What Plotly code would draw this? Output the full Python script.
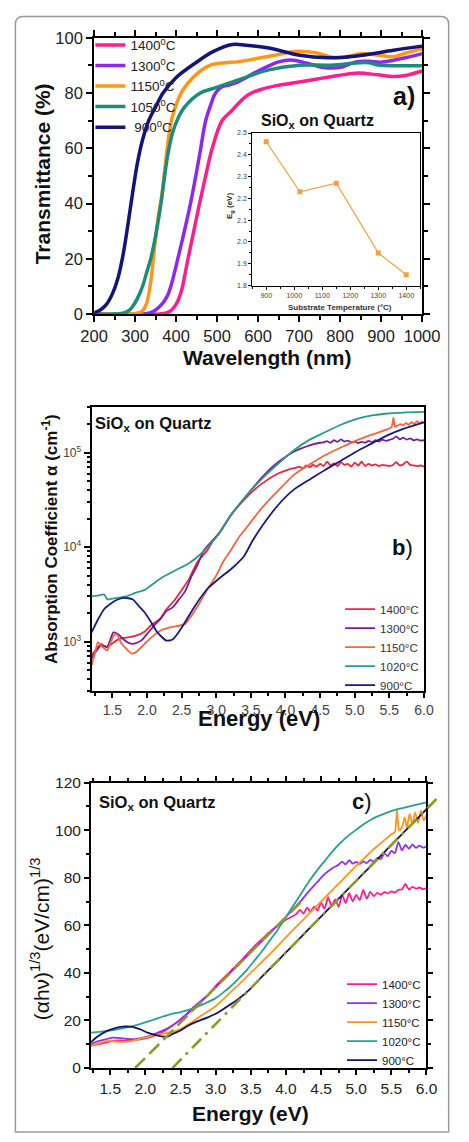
import plotly.graph_objects as go

W, H = 469, 1142
FONT = "Liberation Sans, Arial, Helvetica, sans-serif"


def fx(p):
    return p / W


def fy(p):
    return 1 - p / H


# ---------------- Panel a : transmittance ----------------
a_names = ["1400<sup>0</sup>C", "1300<sup>0</sup>C", "1150<sup>0</sup>C", "1050<sup>0</sup>C", "\u00a0900<sup>0</sup>C"]
a_colors = ["#ff1e8c", "#8c28f0", "#ff9619", "#1e8c7d", "#14147d"]

wl_1400 = [200, 370, 385, 395, 405, 414, 421, 429, 443, 457, 472, 488, 512, 535, 550, 577, 611, 648, 700, 740, 780,
           816, 846, 892, 930, 960, 1000]
T_1400 = [0, 0.2, 1, 2.5, 5, 9, 14, 20, 30, 40, 50, 60, 70, 73.5, 76, 79.5, 81.5, 82.8, 84, 85, 86, 86.8, 87.3, 86.6,
          86.0, 86.4, 88]

wl_1300 = [200, 330, 345, 358, 370, 380, 387, 396, 404, 420, 435, 448, 460, 472, 485, 494, 509, 530, 550, 600, 650,
           680, 720, 760, 800, 839, 870, 900, 950, 1000]
T_1300 = [0, 0.2, 1, 2.5, 4.5, 7, 10, 15, 20, 30, 40, 50, 60, 70, 76, 79.5, 82, 83, 84, 88, 91.3, 92, 90.8, 89.3, 89.3,
          91.3, 91.5, 91.2, 92.5, 94.3]

wl_1150 = [200, 300, 312, 320, 327, 333, 340, 348, 356, 364, 372, 380, 390, 414, 440, 482, 520, 550, 600, 650, 690,
           740, 778, 810, 853, 890, 930, 960, 1000]
T_1150 = [0, 0.2, 0.6, 1.5, 3.5, 7, 14, 25, 35, 42, 52, 62, 71, 80.5, 85.5, 90, 91, 91.3, 92.6, 94, 95.1, 94.6, 93.1,
          93.0, 94.3, 93.8, 93.2, 94.5, 96]

wl_1050 = [200, 250, 270, 285, 295, 305, 318, 328, 338, 352, 364, 372, 380, 392, 405, 421, 459, 497, 550, 626, 702,
           778, 839, 870, 892, 950, 1000]
T_1050 = [0, 0.05, 0.3, 1.3, 3, 5.5, 10, 15, 20, 30, 41, 50, 58, 66, 71, 75, 80, 82, 84.7, 88.4, 90.1, 90.1, 90.9, 91,
          90.2, 89.9, 89.9]

wl_900 = [200, 215, 230, 245, 258, 270, 282, 294, 306, 318, 333, 350, 368, 399, 448, 490, 537, 570, 626, 702, 770,
          810, 853, 930, 1000]
T_900 = [0.5, 1.5, 3.5, 7.5, 13, 21, 32, 44, 55, 63, 70, 75, 80, 85.5, 91, 95, 97.6, 97.3, 96.3, 93.7, 92.8, 93.0,
         93.7, 95.5, 97]

a_wl = [wl_1400, wl_1300, wl_1150, wl_1050, wl_900]
a_T = [T_1400, T_1300, T_1150, T_1050, T_900]

# inset
inset_temp = [900, 1020, 1150, 1300, 1400]
inset_eg = [2.46, 2.23, 2.27, 1.95, 1.85]

# ---------------- Panel b : absorption coefficient ----------------
b_names = ["1400°C", "1300°C", "1150°C", "1020°C", "900°C"]
b_colors = ["#e8283c", "#7d1e96", "#f5643c", "#289b8c", "#191982"]

E_b_1400 = [1.2, 1.26, 1.335, 1.38, 1.425, 1.5, 1.6, 1.7, 1.83, 1.97, 2.05, 2.19, 2.28, 2.39, 2.5, 2.6, 2.73, 2.87,
            2.95, 3.05, 3.22, 3.45, 3.67, 3.9, 4.03, 4.1,
            4.15, 4.2, 4.25, 4.3, 4.35, 4.4, 4.45, 4.5, 4.55, 4.6, 4.65, 4.7, 4.75, 4.8, 4.85, 4.9, 4.95, 5.0, 5.05,
            5.1, 5.15, 5.2, 5.25, 5.3, 5.35, 5.4, 5.45, 5.5, 5.55, 5.6, 5.65, 5.7, 5.75, 5.8, 5.85, 5.9, 5.95, 6.0]
a_b_1400 = [714, 820, 946, 900, 875, 960, 1067, 1100, 1150, 1280, 1468, 1750, 2190, 2700, 3500, 4500, 7000, 9220,
            11500, 14300, 22200, 34500, 47500, 60400, 65500, 68000,
            69000, 71000, 68000, 73000, 70000, 74000, 71000, 76000, 72000, 80000, 73000, 77000, 72000, 79000, 74000,
            76000, 71000, 78000, 73000, 80000, 72000, 76000, 73000, 75000, 72000, 74000, 73000, 72000, 74000, 79000,
            73000, 75000, 80000, 74000, 73000, 72000, 73000, 71000]

E_b_1300 = [1.2, 1.27, 1.335, 1.38, 1.425, 1.47, 1.515, 1.58, 1.65, 1.72, 1.785, 1.85, 1.92, 2.0, 2.1, 2.19, 2.28,
            2.37, 2.46, 2.55, 2.64, 2.73, 2.82, 2.95, 3.05, 3.22, 3.45, 3.67, 3.9, 4.12, 4.35, 4.5,
            4.55, 4.6, 4.65, 4.7, 4.75, 4.8, 4.85, 4.9, 4.95, 5.0, 5.05, 5.1, 5.15, 5.2, 5.25, 5.3, 5.35, 5.4,
            5.45, 5.5, 5.55, 5.6, 5.65, 5.7, 5.75, 5.8, 5.85, 5.9, 5.95, 6.0]
a_b_1300 = [661, 800, 908, 890, 880, 1050, 1250, 1200, 1072, 980, 946, 970, 1030, 1200, 1468, 1720, 2100, 2300,
            2780, 3400, 4860, 6500, 9220, 11800, 14300, 22200, 36000, 55800, 80000, 102000, 119000, 127000,
            128000, 132000, 127000, 135000, 130000, 138000, 131000, 134000, 128000, 131000, 126000, 130000, 127000,
            133000, 129000, 135000, 131000, 137000, 133000, 136000, 140000, 148000, 138000, 144000, 137000, 141000,
            135000, 138000, 134000, 135000]

E_b_1150 = [1.2, 1.25, 1.29, 1.335, 1.38, 1.425, 1.47, 1.52, 1.56, 1.63, 1.7, 1.785, 1.85, 1.965, 2.06, 2.19, 2.33,
            2.46, 2.55, 2.64, 2.75, 2.87, 3.0, 3.1, 3.22, 3.32, 3.45, 3.59, 3.67, 3.9, 4.12, 4.35, 4.57, 4.8, 5.02,
            5.25, 5.47, 5.5, 5.53, 5.56, 5.58, 5.62, 5.66, 5.7, 5.74, 5.78, 5.82, 5.86, 5.9, 5.94, 5.97, 6.0]
a_b_1150 = [563, 760, 985, 908, 850, 805, 960, 1155, 1200, 960, 840, 745, 780, 946, 1100, 1300, 1410,
            1470, 1530, 1870, 2500, 3540, 5000, 7000, 9500, 12500, 16500, 22500, 26500, 40000, 58000, 75000, 93800,
            113000, 134000, 155000, 176000, 180000, 185000, 232000, 188000, 192000, 200000, 195000, 205000, 197000,
            210000, 200000, 215000, 203000, 212000, 205000]

E_b_1020 = [1.2, 1.3, 1.38, 1.43, 1.5, 1.6, 1.7, 1.83, 1.97, 2.1, 2.24, 2.42, 2.6, 2.78, 3.0, 3.22, 3.45, 3.67, 3.9,
            4.12, 4.35, 4.57, 4.8, 5.02, 5.25, 5.47, 5.7, 6.0]
a_b_1020 = [3010, 3080, 3150, 2800, 2850, 2920, 3000, 3270, 3540, 4150, 4870, 5720, 6700, 8500, 12700, 22200, 36000,
            53600, 76800, 106000, 137000, 164000, 197000, 226000, 247000, 259000, 265000, 269000]

E_b_900 = [1.2, 1.29, 1.38, 1.47, 1.56, 1.67, 1.79, 1.9, 1.97, 2.06, 2.15, 2.28, 2.37, 2.5, 2.69, 2.87, 3.05, 3.22,
           3.4, 3.52, 3.67, 3.9, 4.12, 4.35, 4.57, 4.8, 5.02, 5.25, 5.47, 5.7, 6.0]
a_b_900 = [1250, 1700, 2200, 2500, 2750, 2900, 2800, 2300, 2020, 1600, 1250, 1024, 1050, 1400, 2370, 3600, 4700, 5900,
           8000, 11500, 17000, 28200, 40500, 52000, 65500, 82000, 102000, 125000, 152000, 178000, 209000]

b_E = [E_b_1400, E_b_1300, E_b_1150, E_b_1020, E_b_900]
b_A = [a_b_1400, a_b_1300, a_b_1150, a_b_1020, a_b_900]

# ---------------- Panel c : Tauc-like plot ----------------
c_names = ["1400°C", "1300°C", "1150°C", "1020°C", "900°C"]
c_colors = ["#ff1e8c", "#962df5", "#ff9619", "#28a096", "#141464"]

E_c_1400 = [1.226, 1.35, 1.45, 1.54, 1.65, 1.75, 1.9, 2.0, 2.12, 2.25, 2.34, 2.45, 2.56, 2.67, 2.78, 2.9, 3.0, 3.11,
            3.22, 3.34, 3.45, 3.56, 3.67, 3.78, 3.89, 4.0, 4.11,
            4.15, 4.2, 4.25, 4.3, 4.35, 4.4, 4.45, 4.5, 4.55, 4.6, 4.65, 4.7, 4.75, 4.8, 4.85, 4.9, 4.95, 5.0, 5.05,
            5.1, 5.15, 5.2, 5.25, 5.3, 5.35, 5.4, 5.45, 5.5, 5.55, 5.6, 5.65, 5.7, 5.75, 5.8, 5.85, 5.9, 5.95, 6.0]
v_c_1400 = [9.4, 10.2, 10.8, 11.4, 11.6, 11.5, 11.9, 12.5, 13.5, 15.2, 17.0, 19.2, 21.8, 24.5, 27.5, 31.0, 34.5, 37.8,
            41.0, 44.5, 48.0, 51.5, 54.5, 57.5, 60.0, 62.3, 64.0,
            64.8, 66.5, 64.9, 67.4, 65.8, 67.9, 66.2, 69.5, 67.0, 71.8, 68.2, 70.9, 67.8, 72.6, 69.4, 73.5, 70.1, 72.8,
            70.6, 74.9, 71.2, 74.1, 72.3, 73.6, 72.9, 74.0, 73.4, 74.3, 73.8, 74.9, 75.1, 77.4, 75.0, 76.2, 75.4, 75.9,
            75.2, 75.6]

E_c_1300 = [1.226, 1.3, 1.4, 1.54, 1.65, 1.75, 1.9, 2.0, 2.12, 2.23, 2.34, 2.45, 2.56, 2.67, 2.78, 2.9, 3.0, 3.11,
            3.22, 3.34, 3.45, 3.56, 3.67, 3.78, 3.89, 4.0, 4.11, 4.22, 4.33, 4.44, 4.55, 4.66, 4.75,
            4.8, 4.85, 4.9, 4.95, 5.0, 5.05, 5.1, 5.15, 5.2, 5.25, 5.3, 5.35, 5.4, 5.45, 5.5, 5.55, 5.6, 5.65, 5.7,
            5.75, 5.8, 5.85, 5.9, 5.95, 6.0]
v_c_1300 = [10, 11, 11.8, 12.8, 12.6, 12.2, 12.4, 13.0, 14.2, 15.5, 17.0, 19.3, 22.0, 25.2, 28.0, 31.0, 33.9, 37.2,
            40.4, 44.0, 47.2, 50.5, 53.7, 57.0, 60.2, 63.5, 67.0, 70.5, 74.5, 78.0, 81.5, 84.0, 85.5,
            86.8, 85.6, 87.4, 85.9, 86.7, 85.8, 86.9, 86.2, 87.5, 86.8, 88.3, 87.9, 90.2, 89.1, 91.3, 90.4, 95.0,
            91.5, 93.8, 92.2, 94.0, 92.6, 93.5, 92.7, 93.0]

E_c_1150 = [1.226, 1.35, 1.456, 1.55, 1.68, 1.8, 1.9, 2.0, 2.12, 2.23, 2.34, 2.45, 2.56, 2.67, 2.78, 2.89, 3.0, 3.11,
            3.22, 3.34, 3.45, 3.56, 3.67, 3.78, 3.89, 4.0, 4.11, 4.22, 4.33, 4.44, 4.55, 4.66, 4.77, 4.88, 5.0, 5.1,
            5.21, 5.32, 5.4, 5.45, 5.5, 5.55, 5.58, 5.61, 5.65, 5.69, 5.72, 5.76, 5.8, 5.84, 5.88, 5.92, 5.96, 6.0]
v_c_1150 = [9.4, 10.6, 11.4, 11.2, 11.0, 11.3, 12.1, 12.8, 13.8, 14.4, 14.9, 15.8, 17.5, 19.5, 21.8, 23.8, 26.0, 29.0,
            32.1, 35.4, 38.6, 41.8, 45.0, 48.2, 51.5, 55.0, 58.3, 61.6, 64.9, 68.2, 71.5, 74.8, 78.1, 81.4, 85.0, 87.8,
            91.0, 93.8, 95.8, 97.0, 98.3, 99.1, 108.5, 99.8, 101.2, 105.4, 101.0, 106.8, 102.4, 107.5, 103.0, 108.2,
            104.1, 106.5]

E_c_1020 = [1.226, 1.35, 1.456, 1.6, 1.75, 1.9, 2.1, 2.34, 2.5, 2.69, 2.85, 3.0, 3.11, 3.22, 3.34, 3.45, 3.56, 3.67,
            3.78, 3.89, 4.0, 4.11, 4.22, 4.33, 4.44, 4.55, 4.66, 4.77, 4.88, 5.0, 5.1, 5.21, 5.32, 5.43, 5.55, 5.66,
            5.8, 6.0]
v_c_1020 = [14.9, 15.2, 15.6, 16.3, 17.2, 18.3, 20.2, 22.5, 23.5, 25.2, 27.2, 29.4, 31.8, 34.5, 38.0, 41.5, 45.5, 49.5,
            54.0, 58.5, 63.5, 68.5, 73.5, 78.5, 83.0, 87.0, 91.0, 94.5, 97.5, 100.2, 102.4, 104.4, 106.0, 107.3, 108.5,
            109.3, 110.3, 111.7]

E_c_900 = [1.226, 1.3, 1.456, 1.56, 1.68, 1.78, 1.85, 1.95, 2.03, 2.15, 2.25, 2.33, 2.38, 2.5, 2.6, 2.73, 2.87, 3.0,
           3.14, 3.3, 3.49, 3.6, 3.8, 4.0, 4.2, 4.4, 4.6, 4.8, 5.0, 5.2, 5.4, 5.6, 5.8, 6.0]
v_c_900 = [10.8, 12.8, 15.6, 16.7, 17.4, 17.4, 17.0, 16.0, 14.9, 13.8, 13.2, 13.3, 14.2, 15.8, 17.7, 19.5, 21.1, 22.8,
           25.4, 28.5, 33.2, 36.6, 42.6, 48.6, 54.6, 60.7, 66.7, 72.7, 78.7, 84.7, 90.8, 96.8, 102.8, 108.8]

c_E = [E_c_1400, E_c_1300, E_c_1150, E_c_1020, E_c_900]
c_V = [v_c_1400, v_c_1300, v_c_1150, v_c_1020, v_c_900]

# linear fits (band-gap extrapolations)
fit1_E = [1.854, 4.24]
fit1_v = [0, 70.6]
fit2_E = [2.385, 6.19]
fit2_v = [0, 114.5]
fit_color = "#8c9b26"

# ---------------- figure ----------------
fig = go.Figure()

for name, col, x, y in zip(a_names, a_colors, a_wl, a_T):
    fig.add_trace(go.Scatter(x=x, y=y, mode="lines", name=name, legend="legend",
                             line=dict(color=col, width=3.5, shape="spline", smoothing=1.0),
                             xaxis="x", yaxis="y", hoverinfo="skip"))

fig.add_trace(go.Scatter(x=inset_temp, y=inset_eg, mode="lines+markers", showlegend=False,
                         line=dict(color="#f5a040", width=1.2),
                         marker=dict(symbol="square", size=5, color="#f5a040"),
                         xaxis="x4", yaxis="y4"))

for name, col, x, y in zip(b_names, b_colors, b_E, b_A):
    fig.add_trace(go.Scatter(x=x, y=y, mode="lines", name=name, legend="legend2",
                             line=dict(color=col, width=1.8, shape="spline", smoothing=0.6),
                             xaxis="x2", yaxis="y2"))

for name, col, x, y in zip(c_names, c_colors, c_E, c_V):
    fig.add_trace(go.Scatter(x=x, y=y, mode="lines", name=name, legend="legend3",
                             line=dict(color=col, width=1.8, shape="spline", smoothing=0.6),
                             xaxis="x3", yaxis="y3"))

fig.add_trace(go.Scatter(x=fit1_E, y=fit1_v, mode="lines", showlegend=False,
                         line=dict(color=fit_color, width=2.6, dash="14px,6px"),
                         xaxis="x3", yaxis="y3"))
fig.add_trace(go.Scatter(x=fit2_E, y=fit2_v, mode="lines", showlegend=False,
                         line=dict(color=fit_color, width=2.6, dash="13px,6px,3px,6px"),
                         xaxis="x5", yaxis="y3"))


def axis(domain, rng, anchor, dtick=None, tick0=None, minor_dtick=None, fs=16, tcol="#222",
         mirror="ticks", lw=2, ticklen=6, fmt=None, **kw):
    d = dict(domain=domain, range=rng, anchor=anchor, showline=True, linecolor="black", linewidth=lw,
             mirror=mirror, ticks="outside", ticklen=ticklen, tickwidth=lw, tickcolor="black",
             showgrid=False, zeroline=False, tickfont=dict(family=FONT, size=fs, color=tcol))
    if dtick is not None:
        d["dtick"] = dtick
    if tick0 is not None:
        d["tick0"] = tick0
    if fmt:
        d["tickformat"] = fmt
    if minor_dtick is not None:
        d["minor"] = dict(dtick=minor_dtick, ticks="outside", ticklen=max(2, ticklen - 2),
                          tickwidth=max(1, lw - 0.5), tickcolor="black", showgrid=False)
    d.update(kw)
    return d


fig.update_layout(
    width=W, height=H, margin=dict(l=0, r=0, t=0, b=0),
    paper_bgcolor="white", plot_bgcolor="rgba(0,0,0,0)",
    font=dict(family=FONT, color="#111"),
    # panel a
    xaxis=axis([fx(86), fx(438)], [200, 1000], "y", dtick=100, tick0=200, minor_dtick=50, fs=16.5),
    yaxis=axis([fy(310), fy(29.3)], [0, 100], "x", dtick=20, minor_dtick=10, fs=16.5),
    # panel b
    xaxis2=axis([fx(83.3), fx(440)], [1.2, 6.0], "y2", dtick=0.5, tick0=0, minor_dtick=0.25, fs=14,
                tcol="#444", mirror=True, fmt=".1f", ticklen=5),
    yaxis2=dict(type="log", domain=[fy(693.3), fy(404)], range=[2.473, 5.486], anchor="x2",
                showline=True, linecolor="black", linewidth=2, mirror=True, ticks="outside", ticklen=6,
                tickwidth=2, tickcolor="black", showgrid=False, zeroline=False,
                tickvals=[1e3, 1e4, 1e5], ticktext=["10<sup>3</sup>", "10<sup>4</sup>", "10<sup>5</sup>"],
                tickfont=dict(family=FONT, size=12, color="#444"),
                minor=dict(tickvals=[300, 400, 500, 600, 700, 800, 900,
                                     2000, 3000, 4000, 5000, 6000, 7000, 8000, 9000,
                                     20000, 30000, 40000, 50000, 60000, 70000, 80000, 90000,
                                     200000, 300000],
                           ticks="outside", ticklen=3, tickwidth=1.5, tickcolor="black", showgrid=False)),
    # panel c
    xaxis3=axis([fx(82.7), fx(442.7)], [1.227, 6.0], "y3", dtick=0.5, tick0=0, minor_dtick=0.25, fs=15.5,
                fmt=".1f", ticklen=5),
    yaxis3=axis([fy(1076), fy(786)], [0, 120], "x3", dtick=20, minor_dtick=10, fs=15.5, ticklen=5),
    # inset
    xaxis4=axis([fx(255.7), fx(436)], [850, 1450], "y4", dtick=100, tick0=900, minor_dtick=50, fs=7,
                tcol="#444", mirror=True, lw=1, ticklen=3),
    yaxis4=axis([fy(281), fy(126)], [1.8, 2.5], "x4", dtick=0.1, minor_dtick=0.05, fs=7, tcol="#444",
                mirror=True, lw=1, ticklen=3, fmt=".1f"),
    # helper axis so the second fit line can run past the frame
    xaxis5=dict(domain=[fx(82.7), fx(460)], range=[1.227, 1.227 + (460 - 82.7) / 75.4], anchor="y3",
                visible=False, showgrid=False, zeroline=False),
    legend=dict(x=fx(82), y=fy(21), xanchor="left", yanchor="top", bgcolor="rgba(0,0,0,0)",
                font=dict(family=FONT, size=13.5, color="#222"), tracegroupgap=0, itemwidth=30),
    legend2=dict(x=fx(350), y=fy(595), xanchor="left", yanchor="top", bgcolor="rgba(0,0,0,0)",
                 font=dict(family=FONT, size=11.5, color="#333"), tracegroupgap=0, itemwidth=30),
    legend3=dict(x=fx(352), y=fy(976), xanchor="left", yanchor="top", bgcolor="rgba(0,0,0,0)",
                 font=dict(family=FONT, size=11.5, color="#222"), tracegroupgap=0, itemwidth=30),
    showlegend=True,
)


def note(text, x, y, size, angle=0, color="#111", xanchor="center"):
    fig.add_annotation(text=text, x=fx(x), y=fy(y), xref="paper", yref="paper", showarrow=False,
                       textangle=angle, xanchor=xanchor, yanchor="middle",
                       font=dict(family=FONT, size=size, color=color))


# panel a texts
note("<b>Transmittance (%)</b>", 30, 167, 21, angle=-90)
note("<b>Wavelength (nm)</b>", 271, 354, 21)
note("<b>a)</b>", 419, 88, 25)
note("<b>SiO<sub>x</sub> on Quartz</b>", 326, 114, 16)
note("<b>E<sub>g</sub> (eV)</b>", 232, 200, 8, angle=-90, color="#333")
note("<b>Substrate Temperature (°C)</b>", 350, 303, 8, color="#333")
# panel b texts
note("<b>Absorption Coefficient α (cm<sup>-1</sup>)</b>", 38, 538, 17, angle=-90)
note("<b>Energy (eV)</b>", 263, 721, 22)
note("<b>SiO<sub>x</sub> on Quartz</b>", 149, 422, 16.5)
note("<b>b</b>)", 417, 547, 22)
# panel c texts
note("(αhν)<sup>1/3</sup>(eV/cm)<sup>1/3</sup>", 28, 945, 21, angle=-90)
note("<b>Energy (eV)</b>", 254, 1122, 21)
note("<b>SiO<sub>x</sub> on Quartz</b>", 154, 807, 16.5)
note("<b>c</b>)", 373, 805, 22)

# outer rounded frame
x0, x1, y0, y1, r = 1.5, 466.5, 7.5, 1141.0, 8.0
path = (f"M {fx(x0 + r)},{fy(y0)} L {fx(x1 - r)},{fy(y0)} Q {fx(x1)},{fy(y0)} {fx(x1)},{fy(y0 + r)} "
        f"L {fx(x1)},{fy(y1)} L {fx(x0)},{fy(y1)} L {fx(x0)},{fy(y0 + r)} Q {fx(x0)},{fy(y0)} {fx(x0 + r)},{fy(y0)} Z")
fig.add_shape(type="path", path=path, xref="paper", yref="paper", line=dict(color="#9a9a9a", width=1.5),
              fillcolor="rgba(0,0,0,0)", layer="below")

fig.write_html("out.html")
